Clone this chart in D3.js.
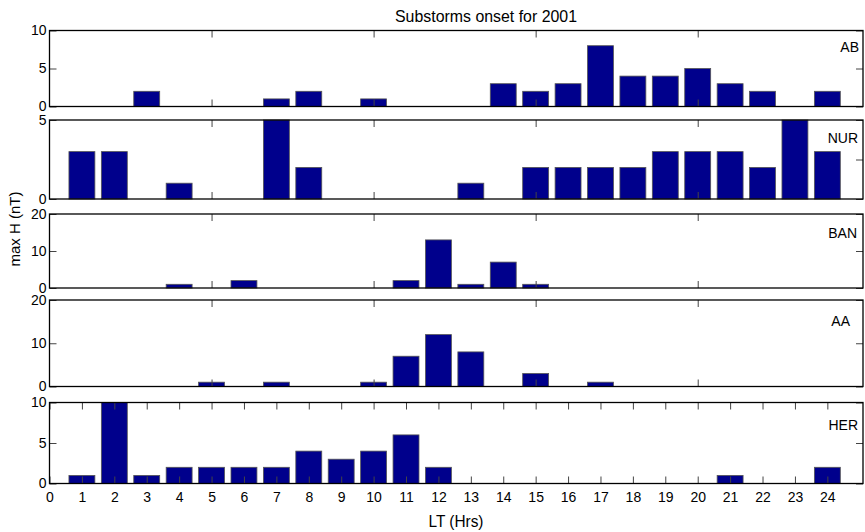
<!DOCTYPE html>
<html>
<head>
<meta charset="utf-8">
<script src="https://cdn.jsdelivr.net/npm/d3@7"></script>
<style>
  body { margin: 0; background: #fff; }
  text { font-family: "Liberation Sans", Arial, sans-serif; fill: #000; }
</style>
</head>
<body>
<script>
// heures locales 1..24
const hours = d3.range(1, 25);
const hourTicks = d3.range(0, 25);

// valeurs par station (max H en nT)
const stations = ["AB", "NUR", "BAN", "AA", "HER"];
const valAB  = [0,0,2,0,0,0,1,2,0,1,0,0,0,3,2,3,8,4,4,5,3,2,0,2];
const valNUR = [3,3,0,1,0,0,5,2,0,0,0,0,1,0,2,2,2,2,3,3,3,2,5,3];
const valBAN = [0,0,0,1,0,2,0,0,0,0,2,13,1,7,1,0,0,0,0,0,0,0,0,0];
const valAA  = [0,0,0,0,1,0,1,0,0,1,7,12,8,0,3,0,1,0,0,0,0,0,0,0];
const valHER = [1,10,1,2,2,2,2,4,3,4,6,2,0,0,0,0,0,0,0,0,1,0,0,2];
const yMax   = [10, 5, 20, 20, 10];
const yTicks = [[0,5,10], [0,5], [0,10,20], [0,10,20], [0,5,10]];

const series = [valAB, valNUR, valBAN, valAA, valHER];

// placement des sous-graphes (top, bottom, position du nom)
const layout = [
  {top: 30.5, bottom: 106.5, ly: 52,  lx: 859},
  {top: 120,  bottom: 199,   ly: 143, lx: 858},
  {top: 214,  bottom: 288,   ly: 238, lx: 857},
  {top: 300,  bottom: 386.5, ly: 326, lx: 850},
  {top: 402.5,bottom: 483.5, ly: 430, lx: 858}
];

const W = 865, H = 532;
const left = 49.5, right = 863;

const svg = d3.select("body")
  .append("svg")
  .attr("width", W)
  .attr("height", H);

const x = d3.scaleLinear().domain([0, 25.1]).range([left, right]);
const barW = x(0.8) - x(0);

stations.forEach((name, i) => {
  const L = layout[i];
  const y = d3.scaleLinear().domain([0, yMax[i]]).range([L.bottom, L.top]);
  const isLast = i === stations.length - 1;
  const g = svg.append("g");

  // barres
  g.selectAll("rect.bar")
    .data(series[i].map((v, k) => ({h: hours[k], v: v})).filter(d => d.v > 0))
    .enter()
    .append("rect")
      .attr("class", "bar")
      .attr("x", d => x(d.h) - barW / 2)
      .attr("y", d => y(Math.min(d.v, yMax[i])))
      .attr("width", barW)
      .attr("height", d => y(0) - y(Math.min(d.v, yMax[i])))
      .attr("fill", "#00008c")
      .attr("stroke", "#555")
      .attr("stroke-width", 0.8);

  // axe gauche
  const ax = g.append("g")
    .attr("transform", `translate(${left},0)`)
    .call(d3.axisLeft(y).tickValues(yTicks[i]).tickSize(-7).tickSizeOuter(0)
      .tickPadding(3).tickFormat(d3.format("d")));
  ax.select(".domain").remove();
  ax.selectAll("text").style("font-size", "14px");
  ax.selectAll("line").attr("stroke", "#444");

  // axe droit
  const ar = g.append("g")
    .attr("transform", `translate(${right},0)`)
    .call(d3.axisRight(y).tickValues([0, yMax[i] / 2, yMax[i]]).tickSize(-7).tickSizeOuter(0).tickFormat(""));
  ar.select(".domain").remove();
  ar.selectAll("line").attr("stroke", "#444");

  const xt = isLast ? hourTicks : [5, 10, 15, 20];

  const at = g.append("g")
    .attr("transform", `translate(0,${L.top})`)
    .call(d3.axisTop(x).tickValues(xt).tickSize(-7).tickSizeOuter(0).tickFormat(""));
  at.select(".domain").remove();
  at.selectAll("line").attr("stroke", "#444");

  const ab = g.append("g")
    .attr("transform", `translate(0,${L.bottom})`)
    .call(d3.axisBottom(x).tickValues(xt).tickSize(-7).tickSizeOuter(0).tickPadding(9)
      .tickFormat(isLast ? d3.format("d") : ""));
  ab.select(".domain").remove();
  ab.selectAll("line").attr("stroke", "#444");
  ab.selectAll("text").style("font-size", "14px");

  // cadre
  g.append("rect")
    .attr("x", left)
    .attr("y", L.top)
    .attr("width", right - left)
    .attr("height", L.bottom - L.top)
    .attr("fill", "none")
    .attr("stroke", "#000")
    .attr("stroke-width", 1.3);

  // nom de la station
  g.append("text")
    .attr("x", L.lx)
    .attr("y", L.ly)
    .attr("text-anchor", "end")
    .style("font-size", "14px")
    .text(name);
});

// titres
svg.append("text")
  .attr("x", 486)
  .attr("y", 22)
  .attr("text-anchor", "middle")
  .attr("textLength", 182)
  .attr("lengthAdjust", "spacingAndGlyphs")
  .style("font-size", "17px")
  .text("Substorms onset for 2001");

svg.append("text")
  .attr("x", 456)
  .attr("y", 527)
  .attr("text-anchor", "middle")
  .attr("textLength", 55)
  .attr("lengthAdjust", "spacingAndGlyphs")
  .style("font-size", "16px")
  .text("LT (Hrs)");

svg.append("text")
  .attr("transform", "translate(20,229) rotate(-90)")
  .attr("text-anchor", "middle")
  .style("font-size", "15px")
  .text("max H (nT)");
</script>
</body>
</html>
